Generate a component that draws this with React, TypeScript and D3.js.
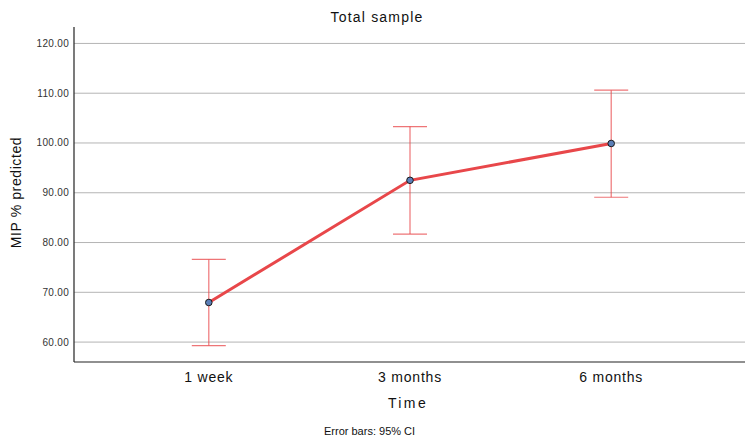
import React from "react";
import * as d3 from "d3";

// values
const timepoints = ["1 week", "3 months", "6 months"];
const means = [67.95, 92.5, 99.9];
const ciLower = [59.3, 81.7, 89.1];
const ciUpper = [76.6, 103.3, 110.6];
const yTicks = [60, 70, 80, 90, 100, 110, 120];

const W = 745;
const H = 438;
const left = 74;
const right = 746;
const top = 27;
const bottom = 362;
const font = "'Liberation Sans', Arial, Helvetica, sans-serif";
const red = "#e8474a";

export default function App() {
  const x = d3.scalePoint<string>().domain(timepoints).range([left, right]).padding(0.67);
  const y = d3.scaleLinear().domain([56, 123.3]).range([bottom, top]);

  const line = d3
    .line<number>()
    .x((_, i) => x(timepoints[i]) as number)
    .y((d) => y(d));

  return (
    <svg
      width={W}
      height={H}
      style={{ position: "absolute", left: 0, top: 0, background: "#fff" }}
      fontFamily={font}
    >
      <text x={377} y={22} textAnchor="middle" fontSize={14} fill="#111" letterSpacing={1.2}>
        Total sample
      </text>

      {yTicks.map((t) => (
        <g key={t}>
          <line x1={left} x2={W} y1={y(t)} y2={y(t)} stroke="#b4b4b4" strokeWidth={1} />
          <text
            x={69}
            y={y(t)}
            dy="0.35em"
            textAnchor="end"
            fontSize={10}
            fill="#333"
            letterSpacing={0.3}
          >
            {t.toFixed(2)}
          </text>
        </g>
      ))}

      <line x1={left} x2={left} y1={top} y2={bottom} stroke="#222" strokeWidth={1.2} />
      <line x1={left} x2={W} y1={bottom} y2={bottom} stroke="#222" strokeWidth={1.2} />

      {timepoints.map((tp) => (
        <text
          key={tp}
          x={x(tp)}
          y={382}
          textAnchor="middle"
          fontSize={14}
          fill="#111"
          letterSpacing={0.8}
        >
          {tp}
        </text>
      ))}

      <text x={408} y={408} textAnchor="middle" fontSize={14} fill="#111" letterSpacing={2.4}>
        Time
      </text>
      <text
        transform={`translate(21, ${(top + bottom) / 2 - 2}) rotate(-90)`}
        textAnchor="middle"
        fontSize={14}
        fill="#111"
        letterSpacing={0.6}
      >
        MIP % predicted
      </text>
      <text x={324} y={435} fontSize={11} fill="#111">
        Error bars: 95% CI
      </text>

      {timepoints.map((tp, i) => {
        const cx = x(tp) as number;
        return (
          <g key={tp} stroke={red} strokeOpacity={0.75} strokeWidth={1.2}>
            <line x1={cx} x2={cx} y1={y(ciLower[i])} y2={y(ciUpper[i])} />
            <line x1={cx - 17} x2={cx + 17} y1={y(ciLower[i])} y2={y(ciLower[i])} />
            <line x1={cx - 17} x2={cx + 17} y1={y(ciUpper[i])} y2={y(ciUpper[i])} />
          </g>
        );
      })}

      <path d={line(means) || ""} fill="none" stroke={red} strokeWidth={3} />

      {timepoints.map((tp, i) => (
        <circle
          key={tp}
          cx={x(tp)}
          cy={y(means[i])}
          r={3.3}
          fill="#5b7fb8"
          stroke="#1a1a1a"
          strokeWidth={1}
        />
      ))}
    </svg>
  );
}
